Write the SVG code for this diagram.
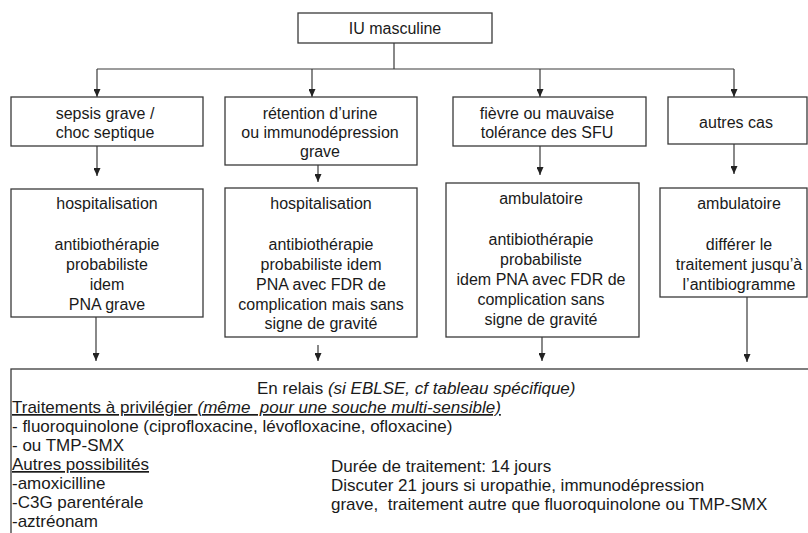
<svg xmlns="http://www.w3.org/2000/svg" width="808" height="533" viewBox="0 0 808 533">
<defs>
<marker id="ah" markerWidth="8" markerHeight="7" refX="8" refY="3.5" orient="auto" markerUnits="userSpaceOnUse" viewBox="0 0 8 7">
<path d="M0,0 L8,3.5 L0,7 Z" fill="#222"/>
</marker>
<style>
text{font-family:"Liberation Sans",Arial,sans-serif;fill:#1a1a1a}
.n{font-size:16px;text-anchor:middle}
.b{font-size:17px}
.box{fill:#fff;stroke:#3a3a3a;stroke-width:1.3}
.c{fill:none;stroke:#3a3a3a;stroke-width:1.2}
.a{fill:none;stroke:#3a3a3a;stroke-width:1.2;marker-end:url(#ah)}
.u{text-decoration:underline}
.i{font-style:italic}
</style>
</defs>
<rect width="808" height="533" fill="#fff"/>
<g id="connectors">
<path class="c" d="M394,43 V69 M97,69 H734"/>
<path class="a" d="M97,69 V97"/>
<path class="a" d="M312,69 V97"/>
<path class="a" d="M540,69 V97"/>
<path class="a" d="M734,69 V97"/>
<path class="a" d="M97,146 V176"/>
<path class="a" d="M318,165 V182"/>
<path class="a" d="M540,146 V175"/>
<path class="a" d="M734,144 V174"/>
<path class="a" d="M96,317 V361"/>
<path class="a" d="M318,345 V361"/>
<path class="a" d="M542,337 V361"/>
<path class="a" d="M747,297 V362"/>
</g>
<g id="root">
<rect class="box" x="298" y="13" width="194" height="30"/>
<text class="n" x="395" y="34">IU masculine</text>
</g>
<g id="c1">
<rect class="box" x="11" y="97" width="192" height="49"/>
<text class="n" x="105" y="119">sepsis grave /</text>
<text class="n" x="105" y="138">choc septique</text>
</g>
<g id="c2">
<rect class="box" x="225" y="97" width="192" height="68"/>
<text class="n" x="320" y="119">rétention d’urine</text>
<text class="n" x="320" y="138">ou immunodépression</text>
<text class="n" x="320" y="157">grave</text>
</g>
<g id="c3">
<rect class="box" x="453" y="97" width="193" height="49"/>
<text class="n" x="547" y="119">fièvre ou mauvaise</text>
<text class="n" x="547" y="138">tolérance des SFU</text>
</g>
<g id="c4">
<rect class="box" x="668" y="97" width="139" height="47"/>
<text class="n" x="736" y="128">autres cas</text>
</g>
<g id="t1">
<rect class="box" x="11" y="189" width="192" height="128"/>
<text class="n" x="107" y="209">hospitalisation</text>
<text class="n" x="107" y="250">antibiothérapie</text>
<text class="n" x="107" y="270">probabiliste</text>
<text class="n" x="107" y="290">idem</text>
<text class="n" x="107" y="310">PNA grave</text>
</g>
<g id="t2">
<rect class="box" x="225" y="188" width="192" height="149"/>
<text class="n" x="321" y="209">hospitalisation</text>
<text class="n" x="321" y="250">antibiothérapie</text>
<text class="n" x="321" y="270">probabiliste idem</text>
<text class="n" x="321" y="290">PNA avec FDR de</text>
<text class="n" x="321" y="310">complication mais sans</text>
<text class="n" x="321" y="329">signe de gravité</text>
</g>
<g id="t3">
<rect class="box" x="446" y="183" width="193" height="154"/>
<text class="n" x="541" y="204">ambulatoire</text>
<text class="n" x="541" y="245">antibiothérapie</text>
<text class="n" x="541" y="265">probabiliste</text>
<text class="n" x="541" y="285">idem PNA avec FDR de</text>
<text class="n" x="541" y="305">complication sans</text>
<text class="n" x="541" y="325">signe de gravité</text>
</g>
<g id="t4">
<rect class="box" x="660" y="188" width="147" height="109"/>
<text class="n" x="739" y="209">ambulatoire</text>
<text class="n" x="739" y="250">différer le</text>
<text class="n" x="739" y="270">traitement jusqu’à</text>
<text class="n" x="739" y="290">l’antibiogramme</text>
</g>
<g id="relais">
<rect class="box" x="11" y="369" width="810" height="180"/>
<text class="b" x="257" y="394">En relais <tspan class="i">(si EBLSE, cf tableau spécifique)</tspan></text>
<text class="b u" x="12" y="413" xml:space="preserve">Traitements à privilégier <tspan class="i">(même  pour une souche multi-sensible)</tspan></text>
<text class="b" x="12" y="432">- fluoroquinolone (ciprofloxacine, lévofloxacine, ofloxacine)</text>
<text class="b" x="12" y="451">- ou TMP-SMX</text>
<text class="b u" x="12" y="470">Autres possibilités</text>
<text class="b" x="12" y="489">-amoxicilline</text>
<text class="b" x="12" y="508">-C3G parentérale</text>
<text class="b" x="12" y="527">-aztréonam</text>
<text class="b" x="331" y="472">Durée de traitement: 14 jours</text>
<text class="b" x="331" y="491">Discuter 21 jours si uropathie, immunodépression</text>
<text class="b" x="331" y="510" xml:space="preserve">grave,  traitement autre que fluoroquinolone ou TMP-SMX</text>
</g>
</svg>
